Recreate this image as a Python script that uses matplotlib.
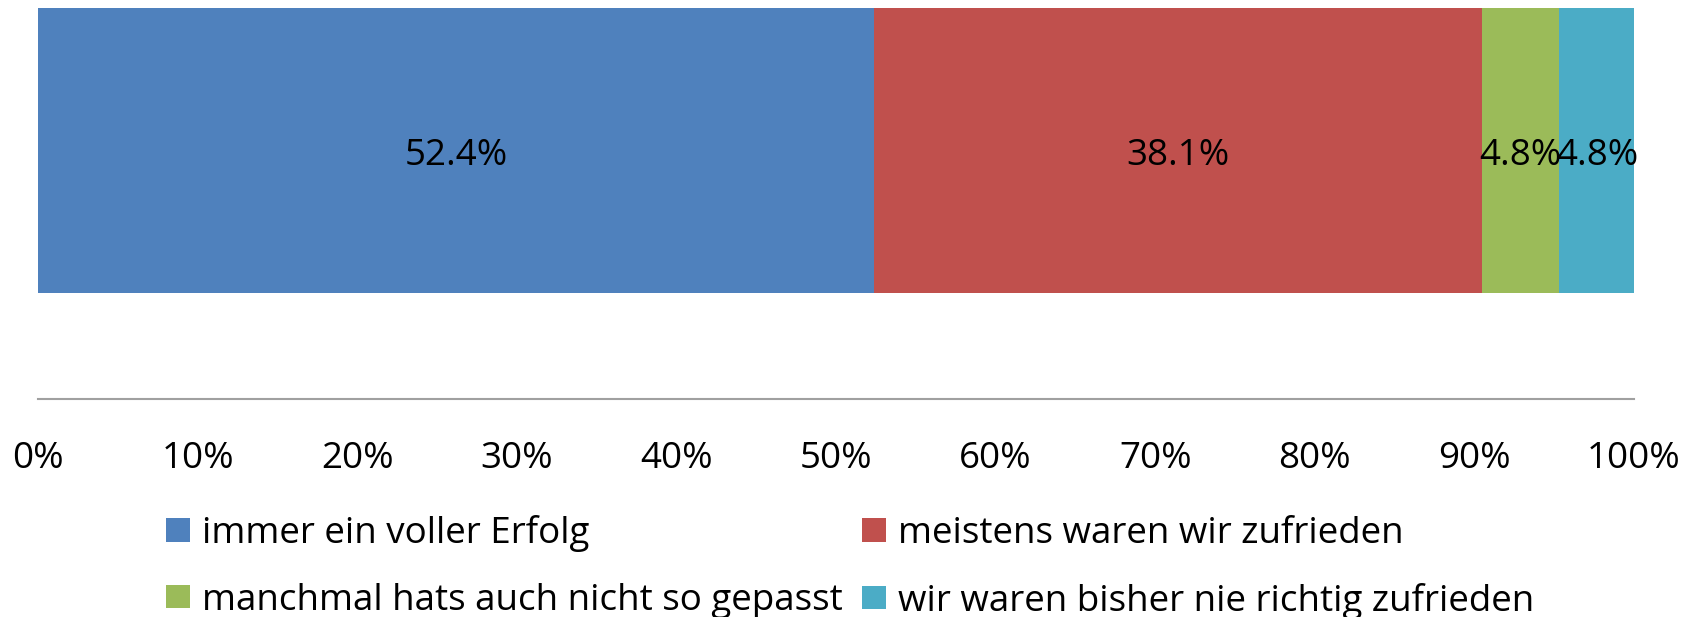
import matplotlib

matplotlib.use("Agg")

import matplotlib.pyplot as plt
from matplotlib.patches import Patch

categories = [
    "immer ein voller Erfolg",
    "meistens waren wir zufrieden",
    "manchmal hats auch nicht so gepasst",
    "wir waren bisher nie richtig zufrieden",
]
shares = [52.4, 38.1, 4.8, 4.8]
colors = ["#4F81BD", "#C0504D", "#9BBB59", "#4BACC6"]
tick_values = [0, 10, 20, 30, 40, 50, 60, 70, 80, 90, 100]
tick_labels = [f"{v}%" for v in tick_values]

W, H = 1701, 617
plt.rcParams["font.family"] = ["Open Sans", "DejaVu Sans"]
FS = 26.5

fig = plt.figure(figsize=(W / 100, H / 100), dpi=100)
ax = fig.add_axes([38 / W, 1 - 399 / H, (1634 - 38) / W, (399 - 8) / H])

left = 0.0
for name, val, col in zip(categories, shares, colors):
    ax.barh(0, val, left=left, height=1.0, color=col, label=name)
    ax.annotate(f"{val:.1f}%", (left + val / 2, 0), xytext=(0, -4), textcoords="offset points",
                ha="center", va="center", fontsize=FS, color="black")
    left += val

ax.set_xlim(0, 100)
ax.set_ylim(0.5 - 391 / 285, 0.5)
ax.set_yticks([])
ax.set_xticks(tick_values)
ax.set_xticklabels(tick_labels, fontsize=FS)
ax.tick_params(axis="x", length=0, pad=30)
for side in ["top", "left", "right"]:
    ax.spines[side].set_visible(False)
ax.spines["bottom"].set_color("#a0a0a0")
ax.spines["bottom"].set_linewidth(1.5)

# Excel orders the legend row by row, matplotlib fills column by column
order = [0, 2, 1, 3]
handles = [Patch(facecolor=colors[i], edgecolor="none") for i in order]
labels = [categories[i] for i in order]
fig.legend(
    handles,
    labels,
    ncol=2,
    loc="upper left",
    bbox_to_anchor=(166 / W, 1 - 515 / H),
    frameon=False,
    fontsize=FS,
    borderpad=0,
    borderaxespad=0,
    handlelength=0.65,
    handleheight=0.6,
    handletextpad=0.32,
    labelspacing=0.83,
    columnspacing=0.54,
)

fig.savefig("out.png", dpi=100)
